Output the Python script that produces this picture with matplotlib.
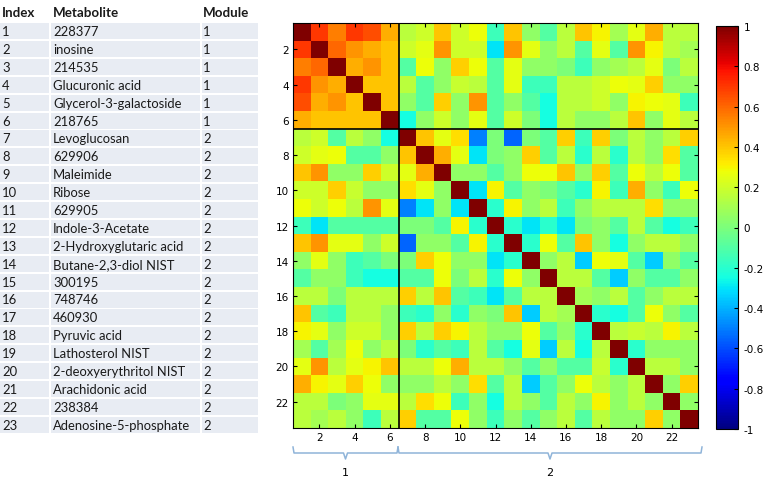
import numpy as np
import matplotlib.pyplot as plt

# ----------------------------
# DATA
# ----------------------------
INDEX = ["1", "2", "3", "4", "5", "6", "7", "8", "9", "10", "11", "12",
         "13", "14", "15", "16", "17", "18", "19", "20", "21", "22", "23"]
METABOLITES = ["228377", "inosine", "214535", "Glucuronic acid",
               "Glycerol-3-galactoside", "218765", "Levoglucosan", "629906",
               "Maleimide", "Ribose", "629905", "Indole-3-Acetate",
               "2-Hydroxyglutaric acid", "Butane-2,3-diol NIST", "300195",
               "748746", "460930", "Pyruvic acid", "Lathosterol NIST",
               "2-deoxyerythritol NIST", "Arachidonic acid", "238384",
               "Adenosine-5-phosphate"]
MODULES = ["1", "1", "1", "1", "1", "1", "2", "2", "2", "2", "2", "2",
           "2", "2", "2", "2", "2", "2", "2", "2", "2", "2", "2"]

# upper triangle of the correlation matrix, row i holds columns i+1 .. 23
UPPER = [
    [0.70, 0.55, 0.70, 0.65, 0.45, 0.15, 0.20, 0.40, 0.20, 0.28, -0.15, 0.40, 0.05, -0.10, 0.15, 0.40, 0.30, 0.10, 0.25, 0.45, 0.15, 0.15],
    [0.60, 0.50, 0.45, 0.40, 0.20, 0.25, 0.50, 0.20, 0.20, -0.30, 0.50, 0.25, 0.05, 0.15, -0.10, 0.25, -0.10, 0.50, 0.30, 0.15, 0.10],
    [0.45, 0.50, 0.40, -0.10, 0.28, 0.05, 0.38, 0.28, -0.10, 0.25, 0.05, 0.05, 0.00, -0.15, 0.05, 0.10, 0.15, 0.25, 0.00, 0.15],
    [0.40, 0.40, 0.15, -0.10, 0.05, 0.18, 0.15, -0.10, 0.25, -0.15, -0.15, 0.15, 0.15, 0.20, 0.28, 0.25, 0.38, 0.05, 0.05],
    [0.40, 0.05, -0.10, 0.38, 0.05, 0.50, -0.10, 0.05, -0.10, -0.25, 0.15, 0.15, 0.20, 0.05, 0.30, 0.28, 0.25, -0.15],
    [-0.25, 0.05, 0.20, 0.05, 0.25, -0.10, 0.20, 0.00, -0.25, 0.15, 0.05, 0.05, 0.15, 0.40, 0.05, 0.25, 0.15],
    [0.40, 0.25, 0.35, -0.50, 0.00, -0.55, 0.00, -0.10, 0.38, -0.15, 0.38, 0.00, 0.15, 0.05, 0.15, 0.38],
    [0.45, 0.25, -0.30, 0.00, 0.05, 0.38, -0.10, 0.15, -0.20, 0.15, -0.20, 0.15, 0.05, 0.35, -0.10],
    [0.05, 0.05, -0.10, 0.05, 0.28, 0.28, 0.40, 0.05, 0.38, -0.10, 0.28, 0.15, 0.28, -0.10],
    [-0.30, 0.30, -0.10, 0.05, 0.00, -0.10, -0.20, 0.30, -0.15, 0.45, 0.05, -0.15, 0.28],
    [-0.20, 0.30, 0.05, 0.15, -0.15, 0.05, 0.15, 0.15, 0.15, 0.35, 0.05, 0.05],
    [-0.20, -0.30, -0.20, -0.30, 0.00, 0.05, -0.10, 0.15, -0.10, -0.25, -0.15],
    [-0.20, 0.28, -0.10, 0.40, 0.05, -0.25, 0.05, 0.15, 0.15, 0.05],
    [0.05, 0.15, -0.35, 0.28, 0.25, -0.10, -0.35, 0.05, -0.10],
    [0.15, 0.15, -0.10, -0.35, 0.05, -0.10, -0.10, 0.05],
    [0.10, 0.05, 0.15, -0.10, 0.05, 0.15, 0.15],
    [-0.20, -0.25, -0.10, 0.28, 0.05, -0.10],
    [0.15, 0.18, 0.15, 0.30, 0.15],
    [-0.20, 0.05, 0.05, 0.05],
    [0.15, 0.15, 0.05],
    [0.05, 0.38],
    [0.05],
]

MODULE_SPLIT = 6  # last index of module 1
CBAR_TICKS = [1, 0.8, 0.6, 0.4, 0.2, 0, -0.2, -0.4, -0.6, -0.8, -1]

# build the symmetric matrix
n = len(METABOLITES)
corr = np.eye(n)
for i, row in enumerate(UPPER):
    for k, v in enumerate(row):
        j = i + 1 + k
        corr[i, j] = v
        corr[j, i] = v

# ----------------------------
# PLOT
# ----------------------------
W, H = 768, 481
fig = plt.figure(figsize=(W / 100, H / 100), dpi=100)
fig.patch.set_facecolor("white")

# overlay in pixel coords for the table and the brackets
ov = fig.add_axes([0, 0, 1, 1])
ov.set_xlim(0, W)
ov.set_ylim(H, 0)
ov.axis("off")

cell_bg = "#e8ecf3"
txt_col = "#1a1a1a"
tfont = "Lato"
col_x = [(0, 49), (51, 200), (202, 258)]
text_x = [2, 53, 203]

for tx, head in zip(text_x, ["Index", "Metabolite", "Module"]):
    ov.text(tx, 13, head, fontsize=9.6, fontweight="bold", family=tfont,
            color=txt_col, va="center")

row_h = 17.9
for r in range(n):
    yc = 32 + r * row_h
    for (x0, x1) in col_x:
        ov.add_patch(plt.Rectangle((x0, yc - 8), x1 - x0, 16,
                                   facecolor=cell_bg, edgecolor="none"))
    for tx, label in zip(text_x, [INDEX[r], METABOLITES[r], MODULES[r]]):
        ov.text(tx, yc, label, fontsize=9.4, family=tfont, color=txt_col,
                va="center")

# heatmap
L, R, T, B = 293, 698, 24, 429
ax = fig.add_axes([L / W, 1 - B / H, (R - L) / W, (B - T) / H])
im = ax.imshow(corr, cmap="jet", vmin=-1, vmax=1, aspect="auto",
               interpolation="nearest", extent=(0.5, n + 0.5, n + 0.5, 0.5))
ax.axvline(MODULE_SPLIT + 0.5, color="black", lw=1.2)
ax.axhline(MODULE_SPLIT + 0.5, color="black", lw=1.2)
ticks = list(range(2, n, 2))
ax.set_xticks(ticks)
ax.set_yticks(ticks)
ax.tick_params(direction="in", top=True, right=True, length=3, width=0.8,
               labelsize=7.5, pad=3)
for s in ax.spines.values():
    s.set_linewidth(0.8)

# colorbar
cax = fig.add_axes([716 / W, 1 - 430 / H, 22 / W, 403 / H])
cb = fig.colorbar(im, cax=cax, ticks=CBAR_TICKS)
cb.ax.set_yticklabels([f"{t:g}" for t in CBAR_TICKS])
cb.ax.tick_params(direction="in", length=3, width=0.8, labelsize=7.5, pad=4)
cb.outline.set_linewidth(0.8)

# module brackets
br_col = "#8fb4d9"
for (x0, x1, lab) in [(293, 398, "1"), (398, 702, "2")]:
    xc = (x0 + x1) / 2
    ov.plot([x0, x0 + 1, xc - 2, xc, xc + 2, x1 - 1, x1],
            [448, 454, 454, 460, 454, 454, 448], color=br_col, lw=1.1)
    ov.text(xc, 473, lab, fontsize=8, ha="center", va="center", color="black")

fig.savefig("out.png", dpi=100)
